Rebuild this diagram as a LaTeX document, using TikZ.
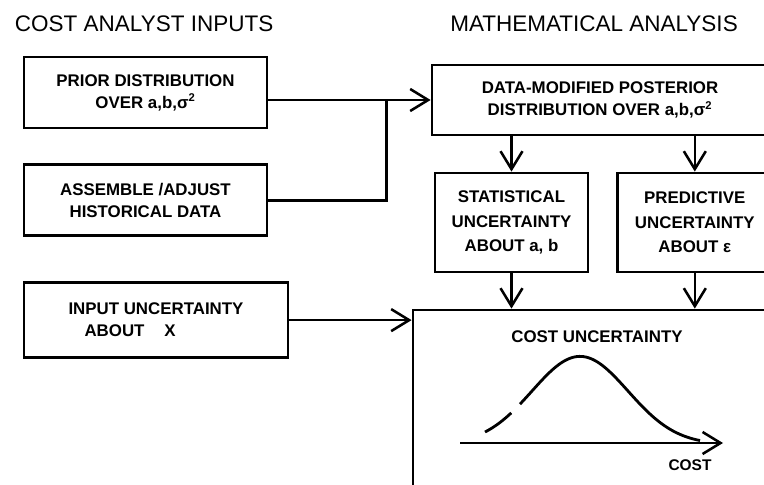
\documentclass[tikz,border=0pt]{standalone}
\usepackage{fontspec}
\setmainfont{Liberation Sans}
\usetikzlibrary{arrows.meta,positioning}

\begin{document}
\begin{tikzpicture}[
      box/.style={draw,line width=2pt,align=center,inner sep=2pt,
      font=\fontsize{12}{15.6}\selectfont\bfseries},
      lbl/.style={font=\fontsize{12}{15.6}\selectfont\bfseries},
      head/.style={font=\fontsize{16}{19}\selectfont},
      flow/.style={line width=1.8pt,-{Straight Barb[length=0.45cm,width=0.55cm]}}]
  \useasboundingbox (0,0) rectangle (19.1,-12.125);
  \clip (0,0) rectangle (19.1,-12.125);
  % column headings
  \node[head,anchor=west] (inputs) at (0.25,-0.6) {COST ANALYST INPUTS};
  \node[head] (analysis) at (14.85,-0.6) {MATHEMATICAL ANALYSIS};
  % analyst inputs
  \node[box,minimum width=6.075cm,minimum height=1.775cm] (prior) at (3.6375,-2.3125)
      {PRIOR DISTRIBUTION\\OVER a,b,σ\textsuperscript{2}};
  \node[box,minimum width=6.075cm,minimum height=1.775cm,below=0.85cm of prior] (assemble)
      {ASSEMBLE /ADJUST\\HISTORICAL DATA};
  \node[box,align=left,minimum width=6.6cm,minimum height=1.875cm,
      below=1.1cm of assemble.south west,anchor=north west] (input)
      {INPUT UNCERTAINTY\\\hspace*{0.4cm}ABOUT\hspace{0.5cm}X};
  % mathematical analysis
  \node[box,minimum width=8.4cm,minimum height=1.75cm] (data) at (15,-2.5)
      {DATA-MODIFIED POSTERIOR\\DISTRIBUTION OVER a,b,σ\textsuperscript{2}};
  \node[box,font=\fontsize{12}{17.5}\selectfont\bfseries,minimum width=3.825cm,
      minimum height=2.475cm] (stat) at (12.7875,-5.5625)
      {STATISTICAL\\UNCERTAINTY\\ABOUT a, b};
  \node[box,font=\fontsize{12}{17.5}\selectfont\bfseries,minimum width=3.85cm,
      minimum height=2.475cm,right=0.675cm of stat] (pred)
      {PREDICTIVE\\UNCERTAINTY\\ABOUT ε};
  \node[draw,line width=2pt,minimum width=10.175cm,minimum height=5.75cm] (costbox)
      at (15.4125,-10.625) {};
  \node[lbl] (costlabel) at (14.925,-8.425) {COST UNCERTAINTY};
  % connectors
  \coordinate[left=1.1cm of data.west] (join);
  \draw[line width=1.8pt] (assemble.east) -| (join);
  \draw[flow] (prior.east |- join) -- (data.west);
  \draw[flow] (stat.north |- data.south) -- (stat.north);
  \draw[flow] (pred.north |- data.south) -- (pred.north);
  \draw[flow] (stat.south) -- (stat.south |- costbox.north);
  \draw[flow] (pred.south) -- (pred.south |- costbox.north);
  \draw[flow] (input.east) -- (input.east -| costbox.west);
  % cost distribution
  \coordinate (axisL) at (11.5,-11.075);
  \coordinate (axisR) at (18.075,-11.075);
  \draw[flow] (axisL) -- (axisR);
  \node[lbl,font=\fontsize{11}{13}\selectfont\bfseries] (costaxis) at (17.25,-11.625) {COST};
  \draw[line width=2pt,domain=12.125:12.78,samples=20,smooth]
      plot (\x,{-11.0+2.2*(exp(0-(\x-14.5)^2/2.88)-0.05)});
  \draw[line width=2pt,domain=13.0:17.5,samples=80,smooth]
      plot (\x,{-11.0+2.2*(exp(0-(\x-14.5)^2/2.88)-0.05)});
\end{tikzpicture}
\end{document}
